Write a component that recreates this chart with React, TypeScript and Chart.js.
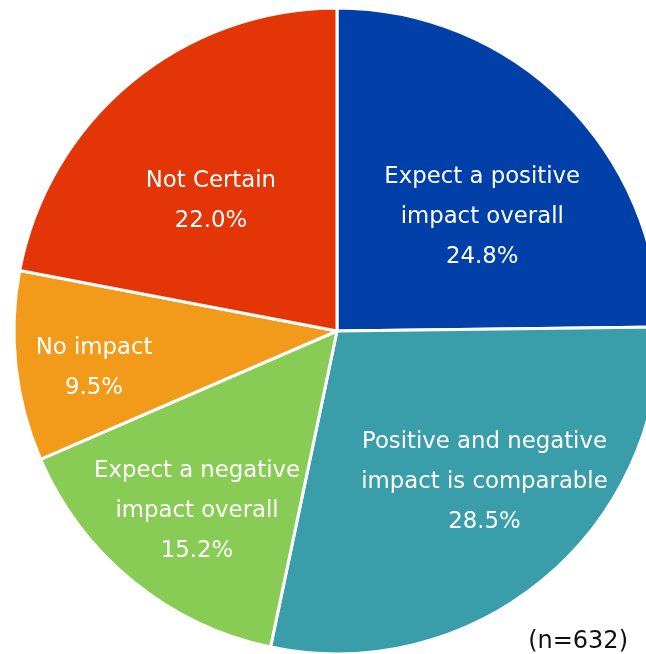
import React, { useEffect, useRef } from "react";
import { Chart, registerables } from "chart.js";

Chart.register(...registerables);

const categories = [
  ["Expect a positive", "impact overall"],
  ["Positive and negative", "impact is comparable"],
  ["Expect a negative", "impact overall"],
  ["No impact"],
  ["Not Certain"],
];
const values = [24.8, 28.5, 15.2, 9.5, 22.0];
const colors = ["#0040A8", "#3A9EAA", "#88CC55", "#F29B1A", "#E33505"];
const labelRadius = [0.575, 0.65, 0.7, 0.76, 0.565];
const labelAngleShift = [6.8, -5.2, -1, -1.9, -4.1];
const noteText = "(n=632)";

const labelPlugin = {
  id: "sliceLabels",
  afterDatasetsDraw(chart: any) {
    const { ctx } = chart;
    const meta = chart.getDatasetMeta(0);
    ctx.save();
    ctx.fillStyle = "#ffffff";
    ctx.font = "22.8px 'DejaVu Sans', Verdana, sans-serif";
    ctx.textAlign = "center";
    ctx.textBaseline = "middle";
    meta.data.forEach((arc: any, i: number) => {
      const p = arc.getProps(["x", "y", "startAngle", "endAngle", "outerRadius"], true);
      const mid = (p.startAngle + p.endAngle) / 2 + (labelAngleShift[i] * Math.PI) / 180;
      const r = p.outerRadius * labelRadius[i];
      const cx = p.x + Math.cos(mid) * r;
      const cy = p.y + Math.sin(mid) * r + 2;
      const lines = [...categories[i], values[i].toFixed(1) + "%"];
      const lh = 40;
      const top = cy - ((lines.length - 1) * lh) / 2;
      lines.forEach((t, k) => ctx.fillText(t, cx, top + k * lh));
    });
    ctx.restore();
  },
};

export default function App() {
  const ref = useRef<HTMLCanvasElement | null>(null);
  useEffect(() => {
    if (!ref.current) return;
    const chart = new Chart(ref.current, {
      type: "pie",
      data: {
        labels: categories.map((c) => c.join(" ")),
        datasets: [
          {
            data: values,
            backgroundColor: colors,
            borderColor: "#ffffff",
            borderWidth: 3,
            radius: 323,
          } as any,
        ],
      },
      options: {
        responsive: false,
        animation: false,
        devicePixelRatio: 1,
        layout: { padding: 0 },
        plugins: {
          legend: { display: false },
          tooltip: { enabled: false },
        },
      },
      plugins: [labelPlugin],
    });
    return () => chart.destroy();
  }, []);
  return (
    <div
      style={{
        position: "fixed",
        left: 0,
        top: 0,
        width: 646,
        height: 654,
        overflow: "hidden",
        background: "#ffffff",
      }}
    >
      <canvas ref={ref} width={674} height={662} style={{ display: "block", width: 674, height: 662 }} />
      <div
        style={{
          position: "absolute",
          right: 18,
          top: 625,
          fontFamily: "'DejaVu Sans', Verdana, sans-serif",
          fontSize: 24,
          color: "#111",
          lineHeight: "30px",
        }}
      >
        {noteText}
      </div>
    </div>
  );
}
